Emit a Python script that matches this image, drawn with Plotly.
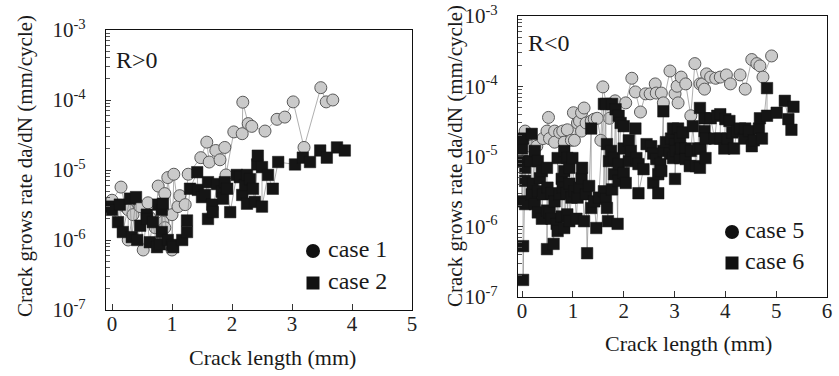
import plotly.graph_objects as go

# ---------------- data ----------------
# Left panel: R>0
case1_x = [0.0, 0.15, 0.22, 0.27, 0.27, 0.35, 0.45, 0.47, 0.52, 0.6, 0.63, 0.72, 0.77, 0.85, 0.88, 0.88,
           0.93, 1.0, 1.0, 1.03, 1.1, 1.13, 1.22, 1.27, 1.48, 1.58, 1.62, 1.73, 1.8, 1.88, 1.9, 2.03,
           2.17, 2.18, 2.27, 2.33, 2.55, 2.75, 2.88, 3.02, 3.2, 3.48, 3.57, 3.68]
case1_y = [3.7e-6, 5.7e-6, 3.0e-6, 2.7e-6, 1.0e-6, 2.3e-6, 3.1e-6, 3.0e-6, 7.2e-7, 3.4e-6, 2.1e-6, 1.5e-6,
           5.9e-6, 1.8e-6, 4.6e-6, 1.5e-6, 7.8e-6, 2.3e-6, 7.2e-7, 8.7e-6, 3.0e-6, 4.3e-6, 3.2e-6, 8.7e-6,
           1.5e-5, 2.5e-5, 1.3e-5, 1.9e-5, 1.4e-5, 2.1e-5, 8.5e-6, 3.5e-5, 3.3e-5, 9.3e-5, 4.6e-5, 4.2e-5,
           3.6e-5, 5.3e-5, 5.7e-5, 9.4e-5, 2.1e-5, 1.5e-4, 9.4e-5, 1.0e-4]

case2_x = [-0.05, 0.0, 0.1, 0.13, 0.18, 0.3, 0.33, 0.4, 0.42, 0.47, 0.58, 0.58, 0.63, 0.68, 0.75, 0.77,
           0.8, 0.83, 0.83, 0.85, 0.93, 1.0, 1.02, 1.17, 1.25, 1.25, 1.3, 1.42, 1.43, 1.5, 1.55, 1.6,
           1.6, 1.67, 1.68, 1.75, 1.83, 1.85, 1.88, 1.92, 1.97, 2.08, 2.13, 2.17, 2.22, 2.25, 2.25, 2.3,
           2.35, 2.38, 2.42, 2.43, 2.5, 2.5, 2.6, 2.68, 2.77, 3.05, 3.18, 3.3, 3.47, 3.58, 3.75, 3.88]
case2_y = [3.0e-6, 2.7e-6, 1.8e-6, 3.2e-6, 1.3e-6, 3.9e-6, 1.1e-6, 4.1e-6, 1.0e-6, 1.6e-6, 2.3e-6, 2.0e-6,
           9.3e-7, 1.8e-6, 7.9e-7, 3.2e-6, 8.7e-7, 2.7e-6, 1.3e-6, 3.3e-6, 1.0e-6, 8.5e-7, 7.9e-7, 1.0e-6,
           1.3e-6, 1.9e-6, 5.4e-6, 9.3e-6, 5.2e-6, 4.1e-6, 4.4e-6, 6.7e-6, 2.0e-6, 3.2e-6, 2.5e-6, 6.3e-6,
           4.9e-6, 3.9e-6, 6.7e-6, 5.4e-6, 2.5e-6, 8.5e-6, 7.9e-6, 4.4e-6, 6.1e-6, 8.5e-6, 3.3e-6, 7.4e-6,
           5.4e-6, 3.5e-6, 1.2e-5, 1.6e-5, 1.1e-5, 3.0e-6, 8.5e-6, 5.4e-6, 1.3e-5, 1.2e-5, 1.5e-5, 1.3e-5,
           1.9e-5, 1.5e-5, 2.1e-5, 1.9e-5]

# Right panel: R<0
case5_x = [0.06, 0.16, 0.29, 0.41, 0.49, 0.52, 0.54, 0.64, 0.64, 0.74, 0.8, 0.83, 0.89, 0.97, 1.01, 1.03,
           1.09, 1.13, 1.17, 1.17, 1.22, 1.26, 1.36, 1.42, 1.48, 1.55, 1.59, 1.72, 1.83, 2.04, 2.16, 2.23,
           2.33, 2.43, 2.52, 2.62, 2.64, 2.74, 2.78, 2.91, 3.01, 3.05, 3.07, 3.13, 3.22, 3.32, 3.4, 3.5,
           3.55, 3.59, 3.63, 3.71, 3.81, 3.9, 4.02, 4.1, 4.29, 4.39, 4.52, 4.62, 4.68, 4.74, 4.91]
case5_y = [2.3e-5, 1.4e-5, 1.4e-5, 1.8e-5, 2.3e-5, 3.6e-5, 1.8e-5, 2.3e-5, 1.6e-5, 2.2e-5, 2.3e-5, 1.6e-5,
           2.4e-5, 1.7e-5, 4.2e-5, 1.7e-5, 3.0e-5, 3.2e-5, 4.2e-5, 2.3e-5, 4.9e-5, 3.0e-5, 3.2e-5, 3.4e-5,
           3.5e-5, 1.7e-5, 9.8e-5, 3.5e-5, 6.2e-5, 5.8e-5, 1.3e-4, 8.3e-5, 4.3e-5, 7.8e-5, 7.8e-5, 1.08e-4,
           8.0e-5, 8.0e-5, 5.8e-5, 1.65e-4, 7.8e-5, 1.0e-4, 5.8e-5, 1.35e-4, 1.08e-4, 3.8e-5, 2.1e-4, 1.08e-4,
           1.08e-4, 9.1e-5, 1.5e-4, 1.35e-4, 1.3e-4, 1.35e-4, 1.45e-4, 1.08e-4, 1.45e-4, 9.1e-5, 2.4e-4,
           2.1e-4, 1.95e-4, 1.35e-4, 2.7e-4]

case6_x = [0.0, 0.0, 0.0, 0.02, 0.02, 0.02, 0.06, 0.06, 0.06, 0.16, 0.19, 0.19, 0.21, 0.25, 0.25, 0.31,
           0.31, 0.31, 0.35, 0.39, 0.39, 0.41, 0.49, 0.49, 0.49, 0.5, 0.54, 0.58, 0.58, 0.62, 0.64, 0.68,
           0.7, 0.7, 0.74, 0.78, 0.78, 0.8, 0.83, 0.83, 0.83, 0.87, 0.89, 0.89, 0.93, 0.93, 0.93, 0.97,
           0.99, 1.03, 1.07, 1.09, 1.13, 1.17, 1.18, 1.22, 1.26, 1.28, 1.32, 1.36, 1.36, 1.42, 1.46, 1.51,
           1.61, 1.61, 1.65, 1.65, 1.67, 1.67, 1.69, 1.71, 1.75, 1.77, 1.77, 1.81, 1.81, 1.84, 1.88, 1.9,
           1.9, 1.9, 1.94, 2.0, 2.0, 2.0, 2.04, 2.1, 2.1, 2.14, 2.23, 2.25, 2.29, 2.29, 2.39, 2.45, 2.54,
           2.58, 2.58, 2.64, 2.68, 2.68, 2.72, 2.74, 2.78, 2.78, 2.83, 2.91, 2.93, 2.97, 2.97, 3.01, 3.01,
           3.03, 3.07, 3.11, 3.11, 3.13, 3.17, 3.22, 3.22, 3.3, 3.32, 3.36, 3.42, 3.46, 3.5, 3.5, 3.51,
           3.59, 3.59, 3.61, 3.61, 3.71, 3.79, 3.84, 3.9, 3.9, 3.98, 4.0, 4.04, 4.08, 4.14, 4.17, 4.23,
           4.29, 4.37, 4.39, 4.47, 4.52, 4.56, 4.66, 4.68, 4.72, 4.82, 4.82, 5.01, 5.17, 5.24, 5.3, 5.34]
case6_y = [8.6e-6, 2.3e-6, 1.3e-5, 1.8e-5, 5.3e-7, 1.75e-7, 6.9e-6, 4.5e-6, 2.1e-6, 8.6e-6, 2.1e-5, 2.9e-6,
           4.1e-6, 1.2e-5, 2.1e-6, 8.6e-6, 3.2e-6, 1.6e-6, 4.9e-6, 6.2e-6, 1.3e-6, 2.9e-6, 6.9e-6, 1.7e-6,
           4.8e-7, 3.6e-6, 1.6e-6, 3.0e-6, 1.3e-6, 5.7e-7, 2.3e-6, 1.1e-6, 9.5e-6, 8.7e-7, 2.9e-6, 4.8e-6,
           1.4e-6, 3.6e-6, 1.2e-5, 6.2e-6, 9.6e-7, 3.0e-6, 9.5e-6, 1.5e-6, 6.9e-6, 4.1e-6, 1.2e-6, 2.6e-6,
           9.5e-6, 3.2e-6, 1.3e-6, 2.6e-6, 3.6e-6, 4.9e-6, 6.9e-6, 1.2e-6, 2.9e-6, 4.2e-7, 3.8e-6, 2.5e-5,
           1.85e-6, 2.3e-6, 9.6e-7, 2.6e-6, 5.6e-5, 3.2e-6, 5.6e-5, 2.5e-6, 1.5e-5, 1.85e-6, 1.2e-6, 8.6e-6,
           1.2e-5, 5.6e-5, 3.4e-6, 9.5e-6, 5.6e-6, 4.7e-5, 1.1e-6, 3.8e-5, 7.8e-6, 4.5e-6, 3.0e-5, 2.7e-5,
           1.3e-5, 5.8e-6, 4.2e-6, 1.7e-5, 8.6e-6, 1.2e-5, 2.5e-5, 9.5e-6, 7.8e-6, 3.0e-6, 6.6e-6, 1.5e-5,
           1.4e-5, 1.1e-5, 4.2e-6, 9.2e-6, 5.6e-6, 3.0e-6, 7.8e-6, 6.2e-6, 4.4e-5, 1.2e-5, 1.6e-5, 1.1e-5,
           1.8e-5, 2.5e-5, 9.5e-6, 1.5e-5, 4.8e-6, 1.2e-5, 2.5e-5, 1.8e-5, 9.5e-6, 1.3e-5, 2.2e-5, 1.3e-5,
           9.2e-6, 7.3e-6, 1.2e-5, 2.7e-5, 7.3e-6, 1.3e-5, 4.9e-5, 6.9e-6, 1.3e-5, 3.5e-5, 2.3e-5, 1.8e-5,
           9.5e-6, 3.5e-5, 1.8e-5, 3.8e-5, 4.0e-5, 1.8e-5, 1.3e-5, 3.4e-5, 1.8e-5, 3.2e-5, 2.2e-5, 1.3e-5,
           2.3e-5, 2.5e-5, 1.8e-5, 2.5e-5, 2.3e-5, 1.4e-5, 1.7e-5, 2.5e-5, 3.5e-5, 1.8e-5, 9.4e-5, 3.8e-5,
           4.2e-5, 6.2e-5, 3.4e-5, 2.4e-5, 5.1e-5]

y_tickvals = [1e-7, 1e-6, 1e-5, 1e-4, 1e-3]
y_ticktext = ["10<sup>-7</sup>", "10<sup>-6</sup>", "10<sup>-5</sup>", "10<sup>-4</sup>", "10<sup>-3</sup>"]
x1_tickvals = [0, 1, 2, 3, 4, 5]
x2_tickvals = [0, 1, 2, 3, 4, 5, 6]

panel_labels = ["R>0", "R<0"]
legend_labels = [["case 1", "case 2"], ["case 5", "case 6"]]
y_title = "Crack grows rate da/dN (mm/cycle)"
x_title = "Crack length (mm)"

# ---------------- styling ----------------
FONT = "Liberation Serif, Times New Roman, serif"
W, H = 839, 376
LINE = dict(color="#8c8c8c", width=0.7)
CIRC = dict(symbol="circle", size=12, color="#cacaca", line=dict(color="#5a5a5a", width=1))
SQR = dict(symbol="square", size=11.5, color="#151515", line=dict(color="#151515", width=0.5))

fig = go.Figure()
fig.add_trace(go.Scatter(x=case1_x, y=case1_y, mode="lines+markers", line=LINE, marker=CIRC,
                         xaxis="x", yaxis="y", showlegend=False))
fig.add_trace(go.Scatter(x=case2_x, y=case2_y, mode="lines+markers", line=LINE, marker=SQR,
                         xaxis="x", yaxis="y", showlegend=False))
fig.add_trace(go.Scatter(x=case5_x, y=case5_y, mode="lines+markers", line=LINE, marker=CIRC,
                         xaxis="x2", yaxis="y2", showlegend=False))
fig.add_trace(go.Scatter(x=case6_x, y=case6_y, mode="lines+markers", line=LINE, marker=SQR,
                         xaxis="x2", yaxis="y2", showlegend=False))


def px(x):
    return x / W


def py(y):
    return 1 - y / H


common_x = dict(showgrid=False, zeroline=False, showline=True, linecolor="#111", linewidth=1.3,
                mirror=True, ticks="inside", ticklen=6, tickcolor="#333", tickwidth=1,
                automargin=False, ticklabeloverflow="allow", ticklabelstandoff=-5,
                tickfont=dict(family=FONT, size=21, color="#222"))
common_y = dict(type="log", range=[-7, -3], showgrid=False, zeroline=False, showline=True,
                linecolor="#111", linewidth=1.3, mirror=True, ticks="inside", ticklen=5,
                tickcolor="#333", tickvals=y_tickvals, ticktext=y_ticktext, ticklabelstandoff=15,
                automargin=False, ticklabeloverflow="allow",
                tickfont=dict(family=FONT, size=21, color="#222"),
                minor=dict(ticks="inside", ticklen=4, tickcolor="#555", dtick="D1", showgrid=False))

fig.update_layout(
    width=W, height=H, margin=dict(l=0, r=0, t=0, b=0, autoexpand=False),
    paper_bgcolor="white", plot_bgcolor="white",
    xaxis=dict(domain=[px(106), px(412)], range=[-0.1, 5.0], tickvals=x1_tickvals,
               anchor="y", **common_x),
    yaxis=dict(domain=[py(310), py(30)], anchor="x", **common_y),
    xaxis2=dict(domain=[px(518), px(827)], range=[-0.08, 6.0], tickvals=x2_tickvals,
                anchor="y2", **common_x),
    yaxis2=dict(domain=[py(297), py(16)], anchor="x2", **common_y),
)

ann = []
shapes = []
tf = dict(family=FONT, color="#1a1a1a")
# panel labels
ann.append(dict(x=px(114), y=py(60), text=panel_labels[0], xanchor="left", yanchor="middle",
                font=dict(size=24, **tf)))
ann.append(dict(x=px(526), y=py(43), text=panel_labels[1], xanchor="left", yanchor="middle",
                font=dict(size=24, **tf)))
# legends (glyph shapes + text)
for (gx, gy1, gy2, tx), labels in zip([(313, 251, 283, 326), (732, 232, 263, 743)], legend_labels):
    r = 7
    shapes.append(dict(type="circle", xref="paper", yref="paper",
                       x0=px(gx - r), x1=px(gx + r), y0=py(gy1 + r), y1=py(gy1 - r),
                       fillcolor="#111", line=dict(color="#111", width=0)))
    s = 6.5
    shapes.append(dict(type="rect", xref="paper", yref="paper",
                       x0=px(gx - s), x1=px(gx + s), y0=py(gy2 + s), y1=py(gy2 - s),
                       fillcolor="#111", line=dict(color="#111", width=0)))
    ann.append(dict(x=px(tx), y=py(gy1 - 2), text=labels[0], xanchor="left", yanchor="middle",
                    font=dict(size=24, **tf)))
    ann.append(dict(x=px(tx), y=py(gy2 - 2), text=labels[1], xanchor="left", yanchor="middle",
                    font=dict(size=24, **tf)))
# axis titles
ann.append(dict(x=px(25), y=py(166), text=y_title, textangle=-90, xanchor="center", yanchor="middle",
                font=dict(size=21, **tf)))
ann.append(dict(x=px(455), y=py(156), text=y_title, textangle=-90, xanchor="center", yanchor="middle",
                font=dict(size=21, **tf)))
ann.append(dict(x=px(272), y=py(357), text=x_title, xanchor="center", yanchor="middle",
                font=dict(size=22, **tf)))
ann.append(dict(x=px(688), y=py(343), text=x_title, xanchor="center", yanchor="middle",
                font=dict(size=22, **tf)))
for a in ann:
    a.update(xref="paper", yref="paper", showarrow=False)
fig.update_layout(annotations=ann, shapes=shapes)

fig.write_html("out.html", config={"displayModeBar": False},
               post_script="document.body.style.margin='0';")
